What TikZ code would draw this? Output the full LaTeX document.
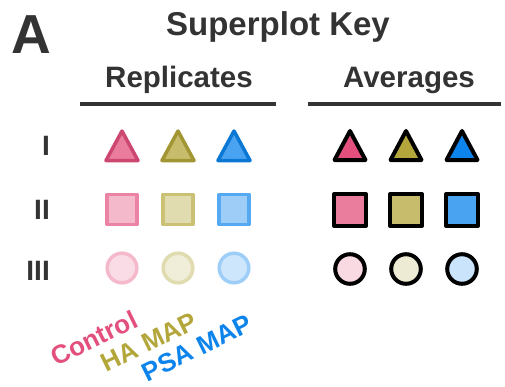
\documentclass[tikz,border=0pt]{standalone}
\usepackage{fontspec}
\setmainfont{Liberation Sans}
\definecolor{ctrl}{HTML}{E3507D}
\definecolor{hamap}{HTML}{B3A63A}
\definecolor{psamap}{HTML}{0C84EC}
\definecolor{ink}{HTML}{333333}
\tikzset{
  head/.style={anchor=base, text=ink, inner sep=0, font=\fontsize{29.5}{30}\selectfont\bfseries},
  rowlab/.style={anchor=base east, text=ink, inner sep=0, font=\fontsize{28}{28}\selectfont\bfseries},
  grplab/.style={rotate=26, inner sep=0, font=\fontsize{26}{26}\selectfont\bfseries}
}
\begin{document}
\begin{tikzpicture}[x=1pt, y=-1pt, line join=round]
\useasboundingbox (0,0) rectangle (505,386);
% titles
\node[anchor=base west, text=ink, inner sep=0, font=\fontsize{55}{55}\selectfont\bfseries] (panel) at (11,53) {A};
\node[anchor=base, text=ink, inner sep=0, font=\fontsize{33}{33}\selectfont\bfseries] (title) at (278,35) {Superplot Key};
\node[head] (rep) at (179,87) {Replicates};
\node[head] (avg) at (409,87) {Averages};
\draw[ink, line width=4] (80,103.7) -- (276,103.7);
\draw[ink, line width=4] (308,103.7) -- (501,103.7);
% rows
\node[rowlab] (one) at (50,155) {I};
\node[rowlab] (two) at (50,219) {II};
\node[rowlab] (three) at (50,280) {III};
% replicates
\foreach \c/\x in {ctrl/122, hamap/178, psamap/234} {
  \filldraw[line width=3.5, draw=\c!90!black, fill=\c!75] (\x,131) -- (\x+16,160.5) -- (\x-16,160.5) -- cycle;
  \filldraw[line width=3.5, draw=\c!70, fill=\c!40] (\x-15,194.5) rectangle (\x+15,224.5);
  \filldraw[line width=3.5, draw=\c!40, fill=\c!20] (\x,268) circle (14.8);
}
% averages
\foreach \c/\x in {ctrl/350, hamap/406, psamap/462} {
  \filldraw[line width=4, draw=black, fill=\c] (\x,131) -- (\x+15.5,160) -- (\x-15.5,160) -- cycle;
  \filldraw[line width=4, draw=black, fill=\c!75] (\x-16,194) rectangle (\x+16,226);
  \filldraw[line width=4, draw=black, fill=\c!22] (\x,269) circle (14.8);
}
% groups
\node[grplab, text=ctrl] (ctrllab) at (94,338) {Control};
\node[grplab, text=hamap] (halab) at (149,342) {HA MAP};
\node[grplab, text=psamap] (psalab) at (197,348) {PSA MAP};
\end{tikzpicture}
\end{document}
